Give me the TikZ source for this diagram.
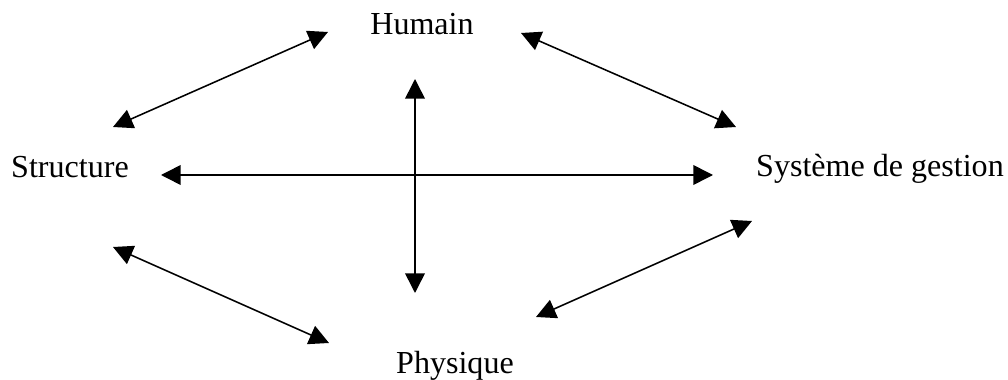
\documentclass[tikz,border=0pt]{standalone}
\usepackage{fontspec}
\setmainfont{Liberation Serif}
\usepackage{tikz}
\usetikzlibrary{arrows.meta}
\tikzset{
  % Pole labels
  pole/.style={anchor=base,inner sep=0pt,font=\fontsize{22.8}{27}\selectfont},
  % Two-way links
  link/.style={{Triangle[length=14pt,width=14pt]}-{Triangle[length=14pt,width=14pt]},
               black,line width=1.1pt}
}
\begin{document}
\begin{tikzpicture}[x=0.025cm,y=-0.025cm]
  \useasboundingbox (0,0) rectangle (1008,380);

  \node[pole] (hum) at (422,35)  {Humain};
  \node[pole] (str) at (70,178)  {Structure};
  \node[pole] (sys) at (880,177) {Système de gestion};
  \node[pole] (phy) at (455,373) {Physique};

  % link ends
  \coordinate (hs1) at (113,127);  \coordinate (hs2) at (328,32);
  \coordinate (hy1) at (521,33);   \coordinate (hy2) at (736,127);
  \coordinate (sp1) at (113,247);  \coordinate (sp2) at (329,343);
  \coordinate (py1) at (536,317);  \coordinate (py2) at (752,221);
  \coordinate (h1)  at (161,175);  \coordinate (h2)  at (713,175);
  \coordinate (v1)  at (415,79);   \coordinate (v2)  at (415,293);

  % Structure <-> Humain
  \draw[link] (hs1) -- (hs2);
  % Humain <-> Systeme
  \draw[link] (hy1) -- (hy2);
  % Structure <-> Physique
  \draw[link] (sp1) -- (sp2);
  % Physique <-> Systeme
  \draw[link] (py1) -- (py2);
  % cross
  \draw[link] (h1) -- (h2);
  \draw[link] (v1) -- (v2);
\end{tikzpicture}
\end{document}
